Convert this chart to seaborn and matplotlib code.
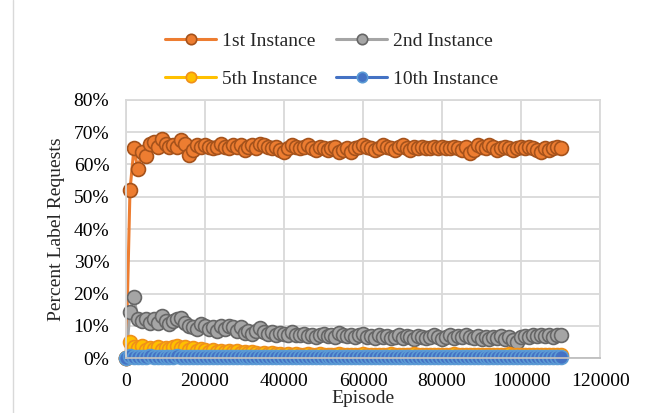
import numpy as np
import pandas as pd
import matplotlib.pyplot as plt
import seaborn as sns
from matplotlib.ticker import PercentFormatter
from matplotlib.lines import Line2D

sns.set_style("white")
plt.rcParams['font.family'] = ['Liberation Serif', 'DejaVu Serif']

# episodes: 0, 1000, ..., 110000
episodes = np.arange(0, 111000, 1000)

first = [0, 52, 65, 58.5, 64, 62.5, 66.5, 67, 65.5, 68, 66.5,
         65.5, 66, 65.5, 67.5, 66.5, 63, 64.5, 66, 65.5, 66,
         65.5, 65, 65.5, 66.5, 65.5, 65, 66, 65.5, 66, 64.5,
         65.5, 66, 65, 66.5, 66, 65.5, 65, 65.5, 64.5, 64,
         65, 66, 65.5, 65, 65.5, 66, 65, 64.5, 65.5, 65,
         64.5, 65, 65.5, 64, 64.5, 65, 64, 65, 65.5, 66,
         65.5, 65, 64.5, 65, 66, 65.5, 65, 64.5, 65.5, 66,
         65, 64.5, 65.5, 65, 65.5, 65, 65, 65.5, 65, 65.5,
         65, 65, 65.5, 65, 64.5, 65.5, 63.5, 64.5, 66, 65.5,
         65, 66, 65.5, 64.5, 65, 65.5, 65, 64.5, 65, 65.5,
         65, 65.5, 65, 64.5, 64, 65, 64.5, 65, 65.5, 65]

second = [0, 14.3, 18.8, 12, 11.5, 12, 11, 12, 10.8, 13, 11.5,
          10.5, 11.5, 12, 12.3, 11, 10, 9.5, 9, 10.5, 9.8,
          9, 9.5, 8.5, 9.8, 9, 10, 9.5, 8.5, 9.5, 7.8,
          8.5, 7.5, 8.5, 9.3, 8, 7.5, 8, 7.2, 7.8, 7.5,
          7, 8, 7.3, 7, 7.5, 6.8, 7.3, 6.5, 7, 7.5,
          6.8, 7.2, 6.5, 7.8, 7, 6.8, 7.2, 6.5, 7, 7.5,
          6.5, 6.8, 6.2, 7, 6.5, 6.8, 6.2, 6.5, 7, 6.2,
          6.8, 6.5, 6, 6.8, 6.5, 6.2, 6.5, 7, 6.5, 6,
          6.5, 7, 6.2, 6.8, 6.5, 7, 6.5, 6.2, 6.8, 6,
          6.5, 5.8, 6.5, 6.2, 6.8, 6, 6.5, 5.5, 5, 6.5,
          6.8, 6.5, 7, 6.8, 7.2, 6.8, 7, 6.5, 7, 7]

fifth = [0, 5, 3.5, 3, 3.8, 2.5, 3.2, 2.8, 3.5, 2.5, 3.2,
         2.8, 3.5, 3.8, 3.2, 3.5, 2.5, 3, 2.2, 2.8, 2.5,
         2, 2.5, 2, 2.3, 1.8, 2.2, 1.8, 2.3, 1.5, 2,
         1.5, 1.8, 1.5, 1.2, 1.6, 1.3, 1.5, 1.2, 1.4, 1.1,
         1.2, 1, 1.3, 0.9, 1.1, 1.2, 0.9, 1, 1.2, 0.8,
         1, 1.1, 0.9, 1.2, 1, 0.8, 1.1, 0.9, 1, 1.2,
         0.9, 1, 0.8, 1.1, 1, 0.9, 1.2, 0.8, 1, 1.1,
         0.9, 1, 1.2, 0.8, 1, 0.9, 1.1, 1, 0.8, 1.1,
         1, 0.9, 1.2, 1, 0.8, 1.1, 0.9, 1, 1.1, 0.8,
         1, 0.9, 1.1, 1, 0.8, 1, 1.2, 0.9, 1, 0.8,
         1, 1.1, 0.9, 1, 0.8, 1, 0.9, 1.1, 0.9, 1]

tenth = [0, 0.5, 0.4, 0.3, 0.4, 0.3, 0.5, 0.3, 0.4, 0.3, 0.4,
         0.3, 0.4, 0.5, 0.3, 0.4, 0.3, 0.3, 0.4, 0.3, 0.4,
         0.3, 0.3, 0.4, 0.3, 0.3, 0.4, 0.3, 0.3, 0.4, 0.3,
         0.3, 0.4, 0.3, 0.3, 0.3, 0.4, 0.3, 0.3, 0.3, 0.4,
         0.3, 0.3, 0.3, 0.4, 0.3, 0.3, 0.3, 0.3, 0.4, 0.3,
         0.3, 0.3, 0.3, 0.3, 0.4, 0.3, 0.3, 0.3, 0.3, 0.3,
         0.3, 0.3, 0.3, 0.3, 0.3, 0.3, 0.3, 0.3, 0.3, 0.3,
         0.3, 0.3, 0.3, 0.3, 0.3, 0.3, 0.3, 0.3, 0.3, 0.3,
         0.3, 0.3, 0.3, 0.3, 0.3, 0.3, 0.3, 0.3, 0.3, 0.3,
         0.3, 0.3, 0.3, 0.3, 0.3, 0.3, 0.3, 0.3, 0.3, 0.3,
         0.3, 0.3, 0.3, 0.3, 0.3, 0.3, 0.3, 0.3, 0.3, 0.3]

labels = ['1st Instance', '2nd Instance', '5th Instance', '10th Instance']
series = [first, second, fifth, tenth]
line_colors = ['#ED7D31', '#A5A5A5', '#FFC000', '#4472C4']
edge_colors = ['#A5521B', '#666666', '#F0901A', '#5B9BD5']

fig = plt.figure(figsize=(6.53, 4.13), dpi=100)
ax = fig.add_axes([0.193, 0.133, 0.726, 0.625])

for lab, vals, lc, ec in zip(labels, series, line_colors, edge_colors):
    df = pd.DataFrame({'Episode': episodes, 'Value': vals})
    sns.lineplot(data=df, x='Episode', y='Value', ax=ax, label=lab,
                 color=lc, linewidth=2.2, marker='o', markersize=10,
                 markerfacecolor=lc, markeredgecolor=ec, markeredgewidth=1.2,
                 sort=False, estimator=None, clip_on=False)

ax.set_xlim(0, 120000)
ax.set_ylim(0, 80)
ax.set_xticks(np.arange(0, 120001, 20000))
ax.set_yticks(np.arange(0, 81, 10))
ax.yaxis.set_major_formatter(PercentFormatter(decimals=0))
ax.grid(True, color='#D9D9D9', linewidth=1.3)
ax.set_axisbelow(True)
for s in ['top', 'right', 'left']:
    ax.spines[s].set_color('#D9D9D9')
    ax.spines[s].set_linewidth(1.3)
ax.spines['bottom'].set_color('#BFBFBF')
ax.spines['bottom'].set_linewidth(1.3)
ax.tick_params(length=0, labelsize=14, colors='black')
ax.tick_params(axis='y', pad=12)
ax.tick_params(axis='x', pad=11)
ax.set_xlabel('Episode', fontsize=14, labelpad=0)
ax.set_ylabel('Percent Label Requests', fontsize=14, labelpad=6)

# legend rows: 1st / 2nd on top, 5th / 10th below
handles, labs = ax.get_legend_handles_labels()
order = [0, 2, 1, 3]
ax.legend_.remove()
fig.legend([handles[i] for i in order], [labs[i] for i in order],
           loc='center', bbox_to_anchor=(0.508, 0.855), ncol=2, frameon=False,
           fontsize=14, handlelength=2.6, handletextpad=0.3, columnspacing=1.0,
           labelspacing=1.05, markerscale=0.75)

# chart-area border edge on the left
fig.add_artist(Line2D([13 / 653, 13 / 653], [0, 1], transform=fig.transFigure,
                      color='#D9D9D9', linewidth=1.0))

fig.savefig('out.png', dpi=100)
